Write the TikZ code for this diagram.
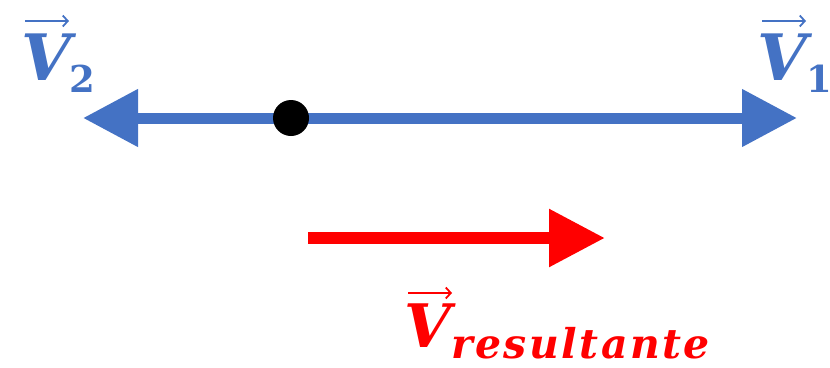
\documentclass[tikz,border=0pt]{standalone}
\usepackage{fontspec}
\setmainfont{DejaVu Serif}
\usetikzlibrary{arrows.meta}
\definecolor{vblue}{HTML}{4472C4}
\definecolor{vred}{HTML}{FF0000}
\tikzset{
  vecarrow/.style={line width=#1, {Triangle[length=55pt,width=55pt]}-{Triangle[length=55pt,width=55pt]}},
  onearrow/.style={line width=12pt, -{Triangle[length=56pt,width=55pt]}},
  bigV/.style={inner sep=0pt, anchor=base west, font=\fontsize{#1}{#1}\selectfont\bfseries\itshape},
  subtxt/.style={inner sep=0pt, anchor=base west, font=\fontsize{#1}{#1}\selectfont\bfseries\itshape\addfontfeature{LetterSpace=6}},
  subnum/.style={inner sep=0pt, anchor=base west, font=\fontsize{#1}{#1}\selectfont\bfseries},
  accent/.style={line width=2pt, -{Straight Barb[length=5pt,width=11pt,line width=1.8pt]}}
}
\begin{document}
\begin{tikzpicture}[x=1pt,y=-1pt]
\useasboundingbox (0,0) rectangle (830,367);
\coordinate (L) at (83,118);
\coordinate (R) at (797,118);
\draw[vblue, vecarrow=11pt] (L) -- (R);
\node[circle, fill=black, minimum size=36pt, inner sep=0pt] (dot) at (291,118) {};
\coordinate (A) at (308,238);
\coordinate (B) at (605,238);
\draw[vred, onearrow] (A) -- (B);
% V2
\node[bigV=64, text=vblue] (v2) at (21,80) {V};
\node[subnum=37, text=vblue] (v2s) at (69,92) {2};
\coordinate (a2s) at (25,21); \coordinate (a2e) at (69,21);
\draw[vblue, accent] (a2s) -- (a2e);
% V1
\node[bigV=64, text=vblue] (v1) at (757,80) {V};
\node[subnum=37, text=vblue] (v1s) at (806,92) {1};
\coordinate (a1s) at (762,21); \coordinate (a1e) at (806,21);
\draw[vblue, accent] (a1s) -- (a1e);
% V resultante
\node[bigV=60, text=vred] (vr) at (404,347) {V};
\node[subtxt=41, text=vred] (vrs) at (451,358) {resultante};
\coordinate (ars) at (408,293); \coordinate (are) at (452,293);
\draw[vred, accent] (ars) -- (are);
\end{tikzpicture}
\end{document}
